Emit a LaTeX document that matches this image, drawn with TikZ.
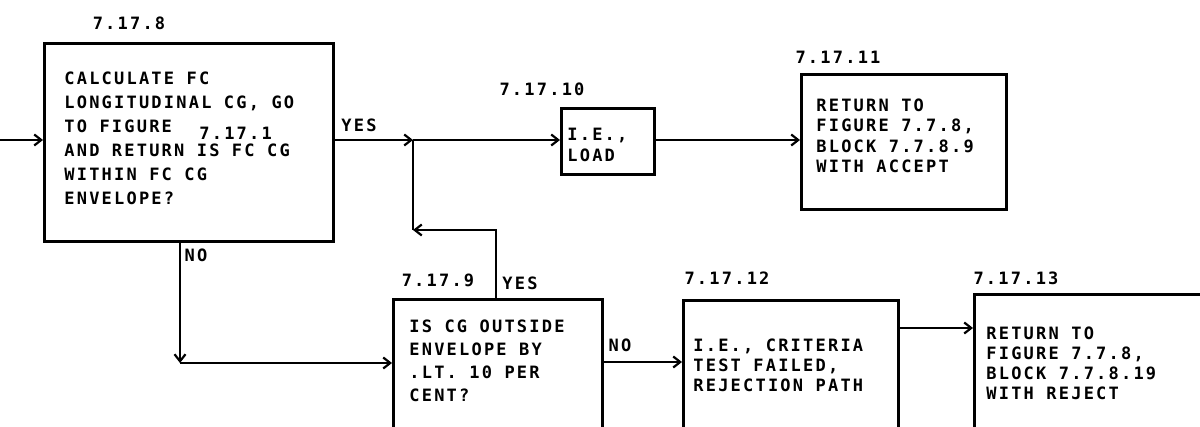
\documentclass[tikz,border=0pt]{standalone}
\usepackage{fontspec}
\newfontfamily\dm[LetterSpace=13]{DejaVu Sans Mono Bold}
\usetikzlibrary{arrows.meta}
\begin{document}
\begin{tikzpicture}[x=1pt,y=-1pt,line width=2.8pt,
  every node/.style={inner sep=0pt},
  box/.style={draw,line width=2.8pt,anchor=north west},
  txt/.style={font=\dm\fontsize{17}{#1}\selectfont,align=left,anchor=north west},
  txt/.default=23,
  lbl/.style={font=\dm\fontsize{17}{20}\selectfont},
  flow/.style={-{Straight Barb[length=7pt,width=11pt,line width=2.2pt]}}]
\useasboundingbox[fill=white] (0,0) rectangle (1200,427);
\clip (0,0) rectangle (1200,427);
% boxes
\node[box,minimum width=289pt,minimum height=198pt] (b8) at (43,42) {};
\node[box,minimum width=93pt,minimum height=66pt] (b10) at (560,107) {};
\node[box,minimum width=205pt,minimum height=135pt] (b11) at (800,73) {};
\node[box,minimum width=209pt,minimum height=170pt] (b9) at (392,298) {};
\node[box,minimum width=215pt,minimum height=170pt] (b12) at (682,299) {};
\node[box,minimum width=260pt,minimum height=170pt] (b13) at (973,293) {};
% texts
\node[txt=24] (t8) at (63,70) {CALCULATE FC\\LONGITUDINAL CG, GO\\TO FIGURE\\AND RETURN IS FC CG\\WITHIN FC CG\\ENVELOPE?};
\node[lbl,anchor=north west] (t81) at (198,126) {7.17.1};
\node[txt=21] (t10) at (566,127) {I.E.,\\LOAD};
\node[txt=20.5] (t11) at (815,97) {RETURN TO\\FIGURE 7.7.8,\\BLOCK 7.7.8.9\\WITH ACCEPT};
\node[txt] (t9) at (408,318) {IS CG OUTSIDE\\ENVELOPE BY\\.LT. 10 PER\\CENT?};
\node[txt=20] (t12) at (692,337) {I.E., CRITERIA\\TEST FAILED,\\REJECTION PATH};
\node[txt=20] (t13) at (985,325) {RETURN TO\\FIGURE 7.7.8,\\BLOCK 7.7.8.19\\WITH REJECT};
% labels
\node[lbl] (l8) at (129,23) {7.17.8};
\node[lbl] (l10) at (542,89) {7.17.10};
\node[lbl] (l11) at (838,57) {7.17.11};
\node[lbl] (l9) at (438,280) {7.17.9};
\node[lbl] (l12) at (727,278) {7.17.12};
\node[lbl] (l13) at (1016,278) {7.17.13};
\node[lbl] (yes1) at (359,125) {YES};
\node[lbl] (yes2) at (520,283) {YES};
\node[lbl] (no1) at (196,255) {NO};
\node[lbl] (no2) at (620,345) {NO};
% connectors
\coordinate (in) at (0,140);
\coordinate (J) at (413,140);
\coordinate (K) at (413,230);
\coordinate (Y) at (496,298);
\coordinate (N) at (180,363);
\coordinate (M) at (0,362);
\coordinate (R) at (0,328);
\draw[flow] (in) -- (in -| b8.west);
\draw[flow] (J -| b8.east) -- (J);
\draw[flow] (J) -- (J -| b10.west);
\draw[flow] (J -| b10.east) -- (J -| b11.west);
\draw[flow] (Y |- b9.north) |- (K);
\draw (K) -- (J);
\draw[flow] (N |- b8.south) -- (N);
\draw[flow] (N) -- (N -| b9.west);
\draw[flow] (M -| b9.east) -- (M -| b12.west);
\draw[flow] (R -| b12.east) -- (R -| b13.west);
\end{tikzpicture}
\end{document}
